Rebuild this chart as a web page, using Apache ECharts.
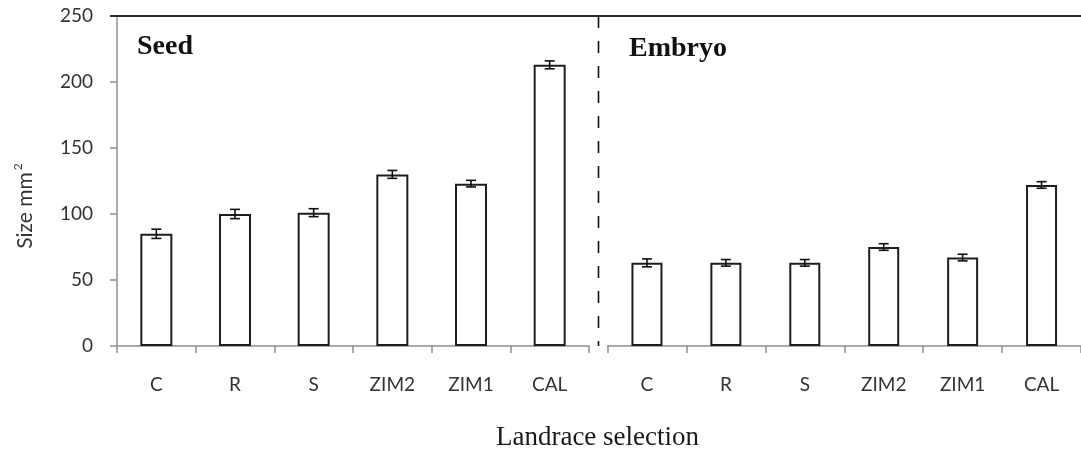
<!DOCTYPE html>
<html>
<head>
<meta charset="utf-8">
<script src="https://cdn.jsdelivr.net/npm/echarts@6/dist/echarts.min.js"></script>
<style>
html,body{margin:0;padding:0;background:#fff;}
#chart{width:1081px;height:452px;}
</style>
</head>
<body>
<div id="chart"></div>
<script>
const categories = ['C', 'R', 'S', 'ZIM2', 'ZIM1', 'CAL'];
const seedMeans = [85, 100, 101, 130, 123, 213];
const seedErr = [3.5, 3.5, 3, 3, 2.5, 3];
const embryoMeans = [63, 63, 63, 75, 67, 122];
const embryoErr = [3, 2.5, 2.5, 2.5, 2.5, 2.5];
const yTicks = { min: 0, max: 250, interval: 50 };

const chart = echarts.init(document.getElementById('chart'), null, { renderer: 'canvas' });

const axisGrey = '#8f8f8f';
const labelFont = 'Lato, "Open Sans", sans-serif';

function errData(means, errs) {
  return means.map((m, i) => [i, m, errs[i]]);
}

function renderErr(params, api) {
  const i = api.value(0), m = api.value(1), e = api.value(2);
  const hi = api.coord([i, m + e]);
  const lo = api.coord([i, m - e]);
  const cap = 5;
  const st = { stroke: '#111', lineWidth: 1.6 };
  return {
    type: 'group',
    children: [
      { type: 'line', shape: { x1: hi[0], y1: hi[1], x2: lo[0], y2: lo[1] }, style: st },
      { type: 'line', shape: { x1: hi[0] - cap, y1: hi[1], x2: hi[0] + cap, y2: hi[1] }, style: st },
      { type: 'line', shape: { x1: lo[0] - cap, y1: lo[1], x2: lo[0] + cap, y2: lo[1] }, style: st }
    ]
  };
}

function xAxisCfg(gridIndex) {
  return {
    type: 'category',
    gridIndex: gridIndex,
    data: categories,
    boundaryGap: true,
    axisLine: { show: true, lineStyle: { color: axisGrey, width: 1.5 } },
    axisTick: { show: true, length: 7, inside: false, lineStyle: { color: axisGrey, width: 1.5 } },
    axisLabel: { color: '#333', fontFamily: labelFont, fontSize: 19, margin: 29 },
    splitLine: { show: false }
  };
}

const barStyle = { color: '#ffffff', borderColor: '#1e1e1e', borderWidth: 2 };

const option = {
  animation: false,
  backgroundColor: '#ffffff',
  grid: [
    { left: 117, top: 16, width: 472, height: 330 },
    { left: 607.5, top: 16, width: 480, height: 330 }
  ],
  xAxis: [xAxisCfg(0), xAxisCfg(1)],
  yAxis: [
    {
      type: 'value', gridIndex: 0,
      min: yTicks.min, max: yTicks.max, interval: yTicks.interval,
      axisLine: { show: true, lineStyle: { color: axisGrey, width: 1.5 } },
      axisTick: { show: true, length: 7, lineStyle: { color: axisGrey, width: 1.5 } },
      axisLabel: { color: '#333', fontFamily: labelFont, fontSize: 19, margin: 24 },
      splitLine: { show: false }
    },
    {
      type: 'value', gridIndex: 1,
      min: yTicks.min, max: yTicks.max, interval: yTicks.interval,
      show: false,
      splitLine: { show: false }
    }
  ],
  series: [
    {
      name: 'Seed', type: 'bar', xAxisIndex: 0, yAxisIndex: 0,
      data: seedMeans, barWidth: 32, itemStyle: barStyle, silent: true
    },
    {
      name: 'Seed error', type: 'custom', xAxisIndex: 0, yAxisIndex: 0,
      data: errData(seedMeans, seedErr), renderItem: renderErr, z: 5, silent: true
    },
    {
      name: 'Embryo', type: 'bar', xAxisIndex: 1, yAxisIndex: 1,
      data: embryoMeans, barWidth: 31, itemStyle: barStyle, silent: true
    },
    {
      name: 'Embryo error', type: 'custom', xAxisIndex: 1, yAxisIndex: 1,
      data: errData(embryoMeans, embryoErr), renderItem: renderErr, z: 5, silent: true
    }
  ],
  graphic: [
    {
      type: 'line', z: 10,
      shape: { x1: 110, y1: 16, x2: 1081, y2: 16 },
      style: { stroke: '#2a2a2a', lineWidth: 2 }
    },
    {
      type: 'line', z: 10,
      shape: { x1: 598.5, y1: 16, x2: 598.5, y2: 346 },
      style: { stroke: '#111', lineWidth: 1.6, lineDash: [12, 13] }
    },
    {
      type: 'text', left: 137, top: 33, z: 10,
      style: { text: 'Seed', font: 'bold 28px "Liberation Serif", "DejaVu Serif", serif', fill: '#111' }
    },
    {
      type: 'text', left: 629, top: 35, z: 10,
      style: { text: 'Embryo', font: 'bold 28px "Liberation Serif", "DejaVu Serif", serif', fill: '#111' }
    },
    {
      type: 'text', z: 10,
      x: 25, y: 206, rotation: Math.PI / 2,
      style: {
        text: '{a|Size mm}{b|2}',
        align: 'center', verticalAlign: 'middle',
        rich: {
          a: { fontFamily: 'Lato, "Open Sans", sans-serif', fontSize: 21, fill: '#333', color: '#333' },
          b: { fontFamily: 'Lato, "Open Sans", sans-serif', fontSize: 12, fill: '#333', color: '#333', padding: [0, 0, 14, 2] }
        }
      }
    },
    {
      type: 'text', z: 10,
      x: 597.5, y: 438,
      style: {
        text: 'Landrace selection', font: '27px "Liberation Serif", "DejaVu Serif", serif', fill: '#1a1a1a',
        align: 'center', verticalAlign: 'middle'
      }
    }
  ]
};

chart.setOption(option);
</script>
</body>
</html>
